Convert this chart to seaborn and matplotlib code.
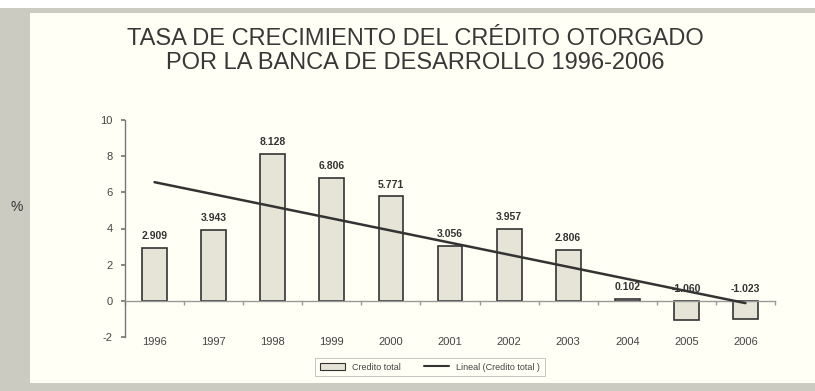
import numpy as np
import pandas as pd
import matplotlib
matplotlib.use("Agg")
import matplotlib.pyplot as plt
from matplotlib.patches import Rectangle, Patch
from matplotlib.lines import Line2D
import seaborn as sns

years = ["1996", "1997", "1998", "1999", "2000", "2001", "2002", "2003", "2004", "2005", "2006"]
credito_total = [2.909, 3.943, 8.128, 6.806, 5.771, 3.056, 3.957, 2.806, 0.102, -1.060, -1.023]
value_labels = ["2.909", "3.943", "8.128", "6.806", "5.771", "3.056", "3.957", "2.806", "0.102", "-1.060", "-1.023"]
y_ticks = [-2, 0, 2, 4, 6, 8, 10]
title = "TASA DE CRECIMIENTO DEL CRÉDITO OTORGADO\nPOR LA BANCA DE DESARROLLO 1996-2006"
bar_label = "Credito total"
trend_label = "Lineal (Credito total )"

sns.set_theme(style="white")
plt.rcParams['font.family'] = ['Liberation Sans', 'DejaVu Sans']
plt.rcParams['axes.unicode_minus'] = False

df = pd.DataFrame({"year": years, "value": credito_total})
df["pos"] = np.arange(len(years))

W, H = 815, 391
fig = plt.figure(figsize=(W / 100, H / 100), dpi=100)
fig.patch.set_facecolor("white")

BAR_FILL = "#e6e4d6"
BAR_EDGE = "#333333"
TREND = "#333333"

# gray frame + cream panel
fig.patches.append(Rectangle((0, 0), 1, 1 - 8 / H, transform=fig.transFigure,
                             facecolor="#cbcbc2", edgecolor="none", zorder=-3))
fig.patches.append(Rectangle((30 / W, 8 / H), 1 - 30 / W, 1 - 21 / H, transform=fig.transFigure,
                             facecolor="#fffff5", edgecolor="none", zorder=-2))

ax = fig.add_axes([125 / W, 1 - 337 / H, 650 / W, 217 / H])
ax.set_facecolor("none")

sns.barplot(data=df, x="year", y="value", ax=ax, width=0.42,
            color=BAR_FILL, edgecolor=BAR_EDGE, linewidth=1.2,
            saturation=1, zorder=2)

sns.regplot(data=df, x="pos", y="value", ax=ax, ci=None, scatter=False, truncate=True,
            line_kws={"color": TREND, "linewidth": 1.8, "zorder": 3})

for i, (v, t) in enumerate(zip(credito_total, value_labels)):
    ax.annotate(t, (i, max(v, 0)), xytext=(0, 5), textcoords="offset points",
                ha="center", va="bottom", fontsize=7.5, fontweight="bold", color="#333333")

ax.set_xlim(-0.5, 10.5)
ax.set_ylim(-2, 10)
ax.set_yticks(y_ticks)
ax.set_xlabel("")
ax.set_ylabel("")

for s in ["top", "right"]:
    ax.spines[s].set_visible(False)
ax.spines["left"].set_color("#777777")
ax.spines["left"].set_linewidth(1.0)
ax.spines["bottom"].set_position(("data", 0))
ax.spines["bottom"].set_color("#999999")
ax.spines["bottom"].set_linewidth(1.0)

ax.set_xticks(np.arange(len(years)))
ax.set_xticklabels(years)
ax.set_xticks(np.arange(len(years) + 1) - 0.5, minor=True)
ax.tick_params(axis="x", which="major", length=0, pad=26, labelsize=8, labelcolor="#444444")
ax.tick_params(axis="x", which="minor", bottom=True, length=3, color="#999999", direction="out")
ax.tick_params(axis="y", which="major", left=True, length=3, color="#777777", direction="out",
               labelsize=8, labelcolor="#444444", pad=6)

fig.text(415 / W, 1 - 51 / H, title, ha="center", va="center", fontsize=17,
         color="#383838", linespacing=1.12)
fig.text(17 / W, 1 - 207 / H, "%", ha="center", va="center", fontsize=10, color="#333333")

handles = [Patch(facecolor=BAR_FILL, edgecolor=BAR_EDGE, linewidth=0.8),
           Line2D([], [], color=TREND, linewidth=1.5)]
labels = [bar_label, trend_label]
leg = fig.legend(handles, labels, loc="center", bbox_to_anchor=(430 / W, 1 - 367 / H),
                 ncol=2, fontsize=6.5, frameon=True, fancybox=False, handlelength=2.8,
                 handleheight=0.8, columnspacing=2.5, borderpad=0.5)
leg.get_frame().set_edgecolor("#aaaaaa")
leg.get_frame().set_facecolor("#fffff5")
leg.get_frame().set_linewidth(0.6)
for t in leg.get_texts():
    t.set_color("#444444")

fig.savefig("out.png", dpi=100, facecolor=fig.get_facecolor())
